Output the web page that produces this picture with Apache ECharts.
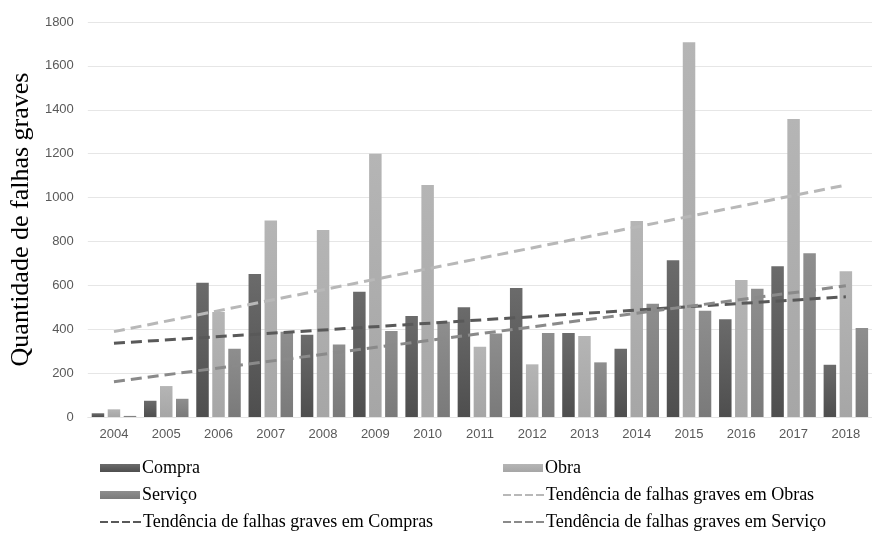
<!DOCTYPE html>
<html>
<head>
<meta charset="utf-8">
<script src="https://cdn.jsdelivr.net/npm/echarts@6/dist/echarts.min.js"></script>
<style>html,body{margin:0;padding:0;background:#fff;}#c{width:872px;height:540px;}</style>
</head>
<body>
<div id="c"></div>
<script>
var years = ['2004','2005','2006','2007','2008','2009','2010','2011','2012','2013','2014','2015','2016','2017','2018'];
var compra = [17, 74, 612, 652, 375, 571, 460, 500, 588, 383, 311, 714, 445, 687, 238];
var obra = [35, 141, 479, 895, 852, 1200, 1057, 320, 240, 369, 893, 1708, 624, 1358, 664];
var servico = [5, 83, 311, 388, 330, 392, 434, 380, 383, 249, 516, 484, 585, 746, 406];
// trend line endpoints (2004, 2018)
var trendObras = [389, 1057];
var trendCompras = [336, 548];
var trendServico = [161, 598];
var yTicks = { min: 0, max: 1800, interval: 200 };

function grad(top, bottom) {
  return new echarts.graphic.LinearGradient(0, 0, 0, 1, [
    { offset: 0, color: top }, { offset: 1, color: bottom }
  ]);
}
function ends(arr) {
  return [[years[0], arr[0]], [years[years.length - 1], arr[1]]];
}
var serif = 'Liberation Serif';
var dashIcon = 'path://M0,0h8v2h-8zM11,0h8v2h-8zM22,0h8v2h-8zM33,0h8v2h-8z';
var legendText = { fontFamily: serif, fontSize: 18, color: '#000', lineHeight: 18, padding: [0, 0, 0, -3] };
function leg(name, left, top, isLine) {
  return {
    data: [isLine ? { name: name, icon: dashIcon } : { name: name, icon: 'rect' }],
    left: left, top: top, orient: 'horizontal',
    itemWidth: isLine ? 41 : 40, itemHeight: isLine ? 2.5 : 8, itemGap: 0, padding: 0,
    selectedMode: false, textStyle: legendText
  };
}
var chart = echarts.init(document.getElementById('c'), null, { renderer: 'canvas' });
chart.setOption({
  animation: false,
  backgroundColor: '#ffffff',
  grid: { left: 85, top: 22, width: 800, height: 395, containLabel: false },
  legend: [
    leg('Compra', 100, 459, false),
    leg('Obra', 503, 459, false),
    leg('Serviço', 100, 486, false),
    leg('Tendência de falhas graves em Obras', 503, 486, true),
    leg('Tendência de falhas graves em Compras', 100, 513, true),
    leg('Tendência de falhas graves em Serviço', 503, 513, true)
  ],
  xAxis: {
    type: 'category', data: years,
    axisLine: { show: true, lineStyle: { color: '#e3e3e3', width: 1 } },
    axisTick: { show: false },
    axisLabel: { fontFamily: 'Liberation Sans', fontSize: 13, color: '#595959', margin: 11 }
  },
  yAxis: {
    type: 'value', min: yTicks.min, max: yTicks.max, interval: yTicks.interval,
    name: 'Quantidade de falhas graves', nameLocation: 'middle', nameGap: 46,
    nameTextStyle: { fontFamily: serif, fontSize: 26, color: '#000' },
    axisLine: { show: false }, axisTick: { show: false },
    axisLabel: { fontFamily: 'Liberation Sans', fontSize: 13, color: '#595959', margin: 14,
      formatter: function (v) { return String(v); } },
    splitLine: { lineStyle: { color: '#e6e6e6', width: 1 } }
  },
  series: [
    { name: 'Compra', type: 'bar', data: compra, barWidth: 12.5, barGap: '28%',
      itemStyle: { color: grad('#6b6b6b', '#4e4e4e') } },
    { name: 'Obra', type: 'bar', data: obra, barWidth: 12.5, barGap: '28%',
      itemStyle: { color: grad('#b5b5b5', '#a6a6a6') } },
    { name: 'Serviço', type: 'bar', data: servico, barWidth: 12.5, barGap: '28%',
      itemStyle: { color: grad('#8e8e8e', '#7a7a7a') } },
    { name: 'Tendência de falhas graves em Obras', type: 'line', data: ends(trendObras),
      symbol: 'none', z: 5, lineStyle: { color: '#b8b8b8', width: 3, type: [11, 6] }, itemStyle: { color: '#b8b8b8' } },
    { name: 'Tendência de falhas graves em Compras', type: 'line', data: ends(trendCompras),
      symbol: 'none', z: 5, lineStyle: { color: '#595959', width: 3, type: [11, 6] }, itemStyle: { color: '#595959' } },
    { name: 'Tendência de falhas graves em Serviço', type: 'line', data: ends(trendServico),
      symbol: 'none', z: 5, lineStyle: { color: '#8a8a8a', width: 3, type: [11, 6] }, itemStyle: { color: '#8a8a8a' } }
  ]
});
</script>
</body>
</html>
